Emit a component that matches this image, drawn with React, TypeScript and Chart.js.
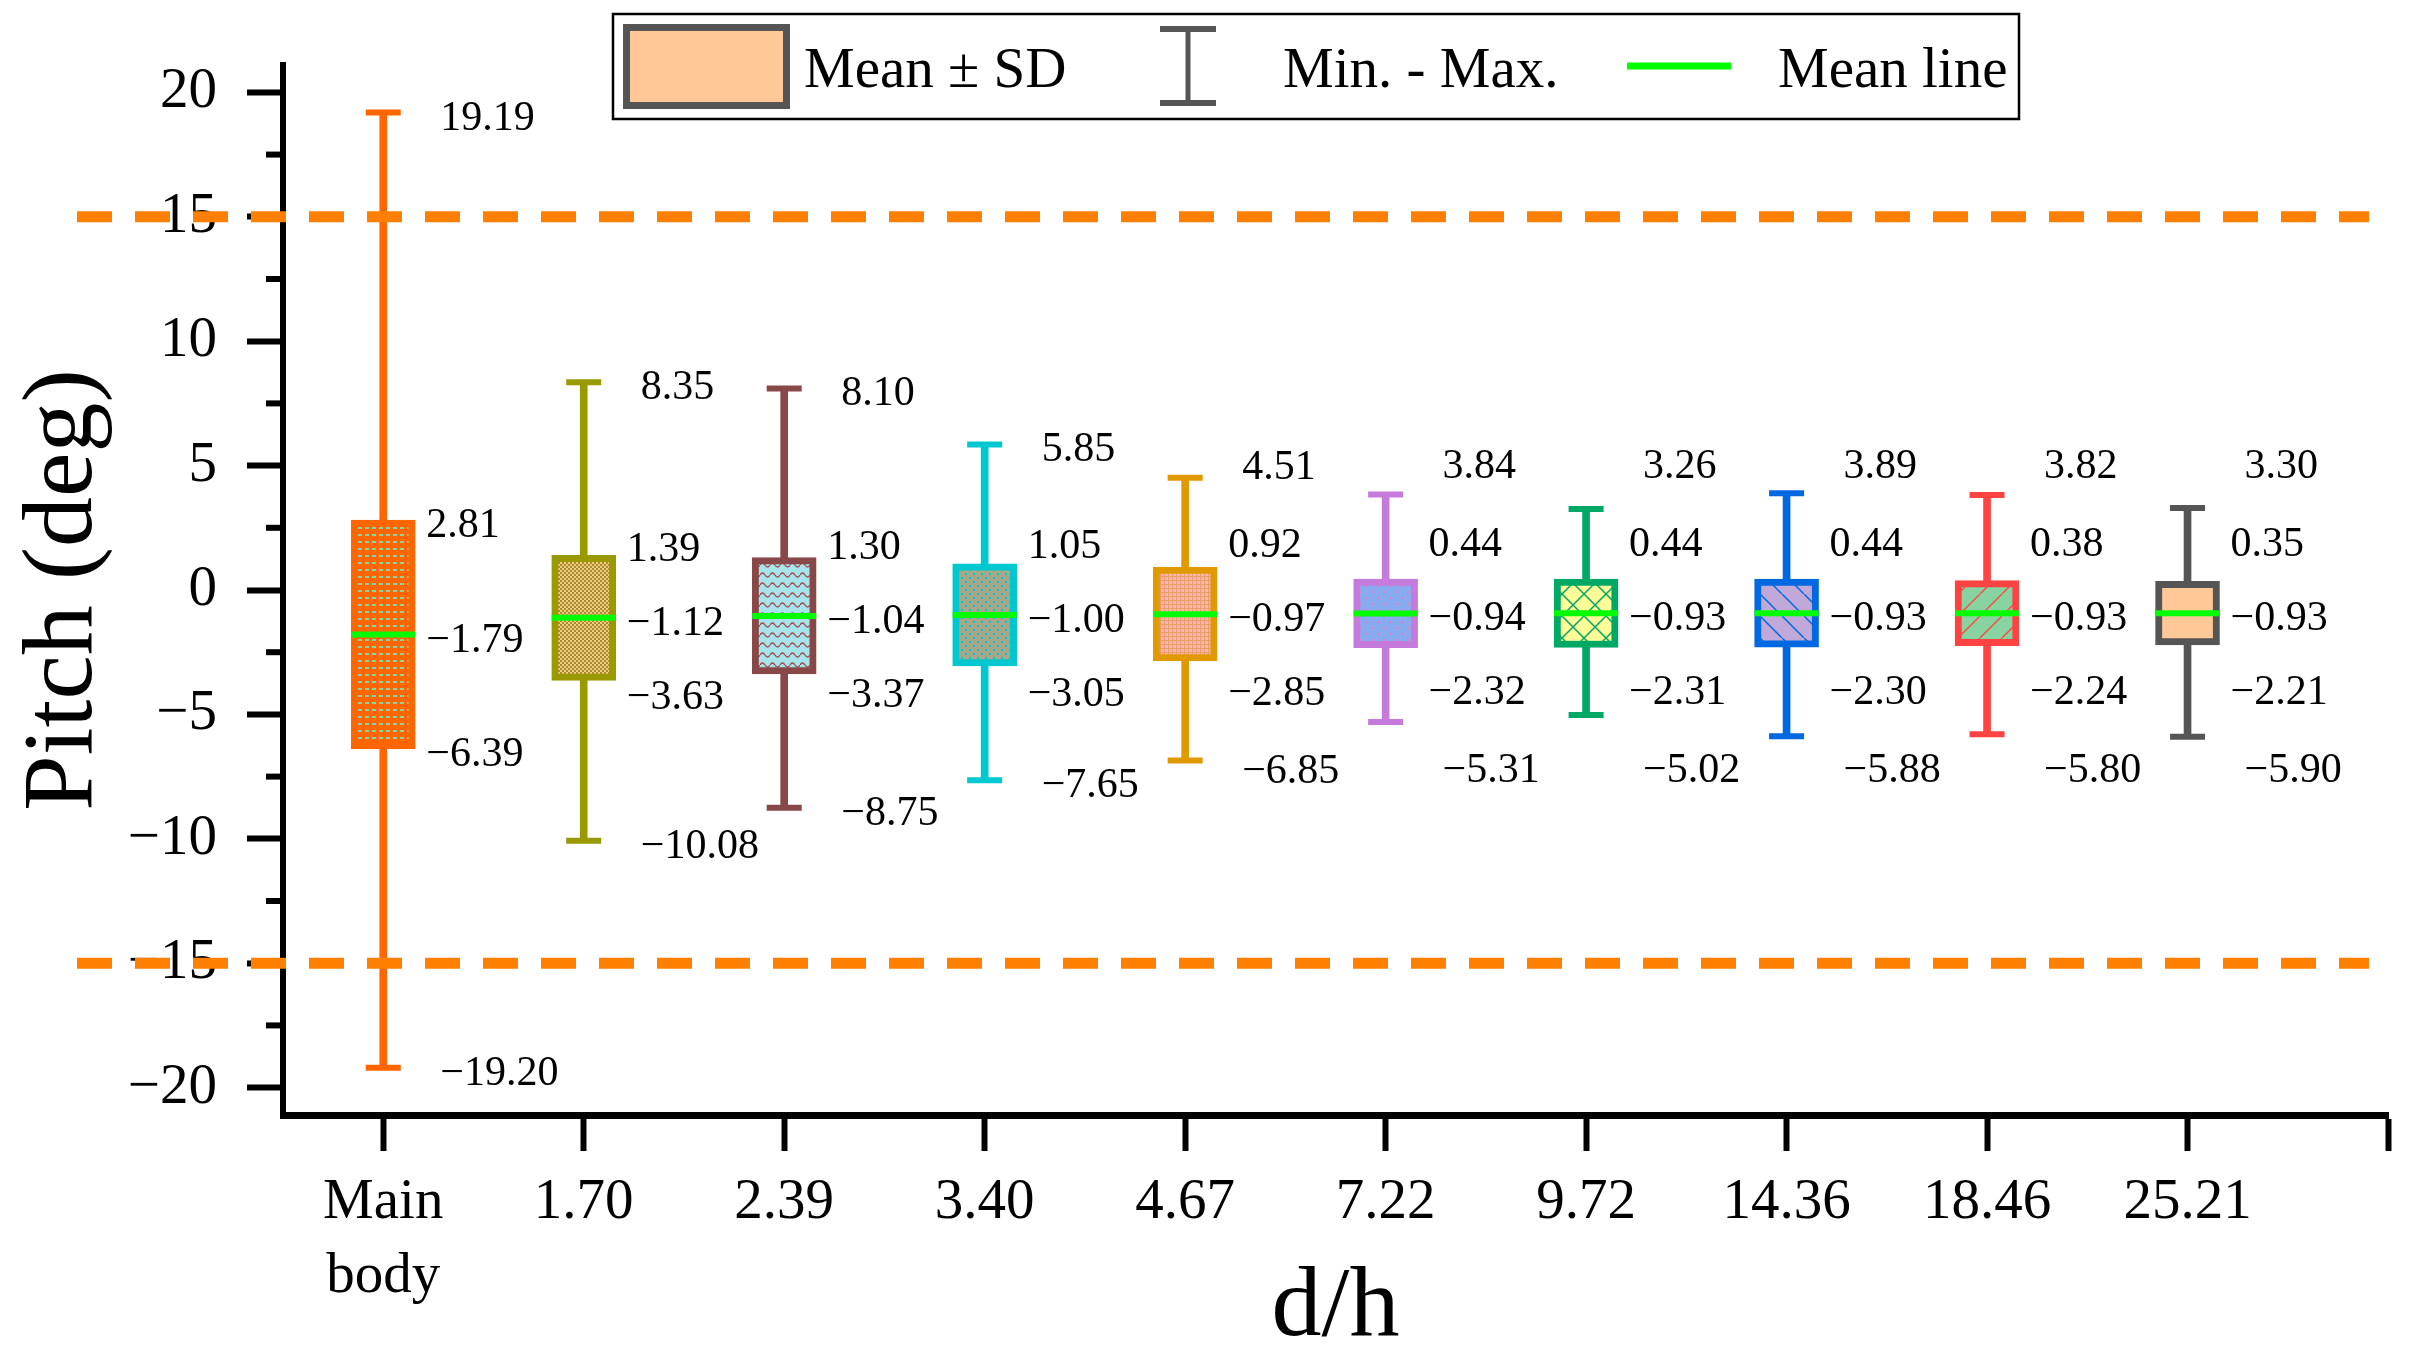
import React, { useEffect, useRef } from 'react';
import { Chart, registerables } from 'chart.js';

Chart.register(...registerables);

// values (Pitch in deg)
const categories = ['Main body', '1.70', '2.39', '3.40', '4.67', '7.22', '9.72', '14.36', '18.46', '25.21'];
const maxVals = [19.19, 8.35, 8.10, 5.85, 4.51, 3.84, 3.26, 3.89, 3.82, 3.30];
const upperVals = [2.81, 1.39, 1.30, 1.05, 0.92, 0.44, 0.44, 0.44, 0.38, 0.35];
const meanVals = [-1.79, -1.12, -1.04, -1.00, -0.97, -0.94, -0.93, -0.93, -0.93, -0.93];
const lowerVals = [-6.39, -3.63, -3.37, -3.05, -2.85, -2.32, -2.31, -2.30, -2.24, -2.21];
const minVals = [-19.20, -10.08, -8.75, -7.65, -6.85, -5.31, -5.02, -5.88, -5.80, -5.90];
const yTicks = [-20, -15, -10, -5, 0, 5, 10, 15, 20];
const yMinorTicks = [-17.5, -12.5, -7.5, -2.5, 2.5, 7.5, 12.5, 17.5];
const limitLines = [15, -15];

const FONT = "'Liberation Serif', 'Times New Roman', serif";
const edgeColors = ['#FF6600', '#999900', '#884848', '#00C8D0', '#E09A00', '#C67ADB', '#00A865', '#0068E0', '#FF4242', '#555555'];

const fmt = (v: number) => (v < 0 ? '\u2212' : '') + Math.abs(v).toFixed(2);

function tile(size: number, bg: string, draw: (g: CanvasRenderingContext2D) => void) {
    const c = document.createElement('canvas');
    c.width = size;
    c.height = size;
    const g = c.getContext('2d')!;
    g.fillStyle = bg;
    g.fillRect(0, 0, size, size);
    draw(g);
    return g.createPattern(c, 'repeat')!;
}

function makeFills(): (CanvasPattern | string)[] {
    return [
        // main body: small light green dashes on orange
        tile(7, '#FF6600', g => { g.fillStyle = '#8FD3A0'; g.fillRect(1, 2, 4, 2); }),
        // 1.70: fine checker
        tile(4, '#F2C890', g => { g.fillStyle = '#A89020'; g.fillRect(0, 0, 2, 2); g.fillRect(2, 2, 2, 2); }),
        // 2.39: wavy lines
        tile(10, '#A8E4EC', g => {
            g.strokeStyle = '#A05050'; g.lineWidth = 1.4;
            g.beginPath(); g.moveTo(0, 5); g.quadraticCurveTo(2.5, 1, 5, 5); g.quadraticCurveTo(7.5, 9, 10, 5); g.stroke();
        }),
        // 3.40: cyan dots on khaki
        tile(8, '#A8A888', g => { g.fillStyle = '#00C8D0'; g.fillRect(1, 1, 2, 2); g.fillRect(5, 5, 2, 2); }),
        // 4.67: pink with orange grid
        tile(4, '#FFB0C0', g => { g.fillStyle = '#E8A060'; g.fillRect(0, 0, 4, 1); g.fillRect(0, 0, 1, 4); }),
        // 7.22: pink dots on blue
        tile(12, '#88AAEE', g => { g.fillStyle = '#E080C0'; g.fillRect(3, 3, 2, 2); g.fillRect(9, 9, 2, 2); }),
        // 9.72: green cross hatch on yellow
        tile(22, '#FFFF99', g => {
            g.strokeStyle = '#00A865'; g.lineWidth = 1.5;
            g.beginPath(); g.moveTo(-1, -1); g.lineTo(23, 23); g.moveTo(-1, 23); g.lineTo(23, -1); g.stroke();
        }),
        // 14.36: blue back diagonals on lavender
        tile(22, '#C0A8D8', g => {
            g.strokeStyle = '#0068E0'; g.lineWidth = 1.5;
            g.beginPath(); g.moveTo(-1, -1); g.lineTo(23, 23); g.stroke();
        }),
        // 18.46: red diagonals on green
        tile(22, '#88D4A0', g => {
            g.strokeStyle = '#FF4242'; g.lineWidth = 1.3;
            g.beginPath(); g.moveTo(-1, 23); g.lineTo(23, -1); g.stroke();
        }),
        '#FFC896',
    ];
}

const annotatePlugin = {
    id: 'annotate',
    afterDatasetsDraw(chart: any) {
        const { ctx, scales } = chart;
        const xs = scales.x, ys = scales.y;
        ctx.save();
        ctx.fillStyle = '#000';
        ctx.font = `42px ${FONT}`;
        ctx.textBaseline = 'middle';
        ctx.textAlign = 'left';
        categories.forEach((_, i) => {
            const cx = xs.getPixelForValue(i + 1);
            const py = (v: number) => ys.getPixelForValue(v) + 6;
            const yMean = py(meanVals[i]);
            const yUp = Math.min(py(upperVals[i]), yMean - 74);
            const yLo = Math.max(py(lowerVals[i]), yMean + 74);
            const yMax = Math.min(py(maxVals[i]), yUp - 78);
            const yMin = Math.max(py(minVals[i]), yLo + 78);
            ctx.fillText(fmt(upperVals[i]), cx + 43, yUp);
            ctx.fillText(fmt(meanVals[i]), cx + 43, yMean);
            ctx.fillText(fmt(lowerVals[i]), cx + 43, yLo);
            ctx.fillText(fmt(maxVals[i]), cx + 57, yMax);
            ctx.fillText(fmt(minVals[i]), cx + 57, yMin);
        });
        ctx.restore();
    },
    afterDraw(chart: any) {
        const { ctx, scales, chartArea } = chart;
        const ys = scales.y;
        ctx.save();
        // minor ticks on the y axis
        ctx.strokeStyle = '#000';
        ctx.lineWidth = 6;
        yMinorTicks.forEach(v => {
            const y = ys.getPixelForValue(v);
            ctx.beginPath();
            ctx.moveTo(chartArea.left - 17, y);
            ctx.lineTo(chartArea.left, y);
            ctx.stroke();
        });
        // +-15 deg limits
        ctx.strokeStyle = '#FF8000';
        ctx.lineWidth = 11;
        ctx.setLineDash([35, 23]);
        limitLines.forEach(v => {
            const y = ys.getPixelForValue(v);
            ctx.beginPath();
            ctx.moveTo(77, y);
            ctx.lineTo(2369, y);
            ctx.stroke();
        });
        ctx.setLineDash([]);

        // legend
        ctx.fillStyle = '#fff';
        ctx.fillRect(613, 14, 1406, 105);
        ctx.strokeStyle = '#000';
        ctx.lineWidth = 2.5;
        ctx.strokeRect(613, 14, 1406, 105);

        ctx.fillStyle = '#FFC896';
        ctx.fillRect(626, 27, 161, 79);
        ctx.strokeStyle = '#555555';
        ctx.lineWidth = 7;
        ctx.strokeRect(626.5, 27.5, 160, 78);

        ctx.lineWidth = 5;
        ctx.beginPath();
        ctx.moveTo(1188, 26); ctx.lineTo(1188, 106);
        ctx.stroke();
        ctx.lineWidth = 6;
        ctx.beginPath();
        ctx.moveTo(1160, 29); ctx.lineTo(1216, 29);
        ctx.moveTo(1160, 103); ctx.lineTo(1216, 103);
        ctx.stroke();

        ctx.strokeStyle = '#00FF00';
        ctx.lineWidth = 7;
        ctx.beginPath();
        ctx.moveTo(1627, 66); ctx.lineTo(1731, 66);
        ctx.stroke();

        ctx.fillStyle = '#000';
        ctx.font = `57px ${FONT}`;
        ctx.textBaseline = 'alphabetic';
        ctx.textAlign = 'left';
        ctx.fillText('Mean \u00B1 SD', 804, 87);
        ctx.fillText('Min. - Max.', 1283, 87);
        ctx.fillText('Mean line', 1778, 87);
        ctx.restore();
    },
};

export default function App() {
    const canvasRef = useRef<HTMLCanvasElement>(null);

    useEffect(() => {
        document.body.style.margin = '0';
        const context = canvasRef.current?.getContext('2d');
        if (!context) return;
        const fills = makeFills();

        const capData = categories.flatMap((_, i) => [
            { x: i + 1, y: maxVals[i] },
            { x: i + 1, y: minVals[i] },
        ]);
        const capColors = edgeColors.flatMap(c => [c, c]);

        const chart = new Chart(context, {
            type: 'bar',
            data: {
                datasets: [
                    {
                        type: 'bar',
                        label: 'Min. - Max.',
                        data: categories.map((_, i) => ({ x: i + 1, y: [minVals[i], maxVals[i]] })),
                        backgroundColor: edgeColors,
                        borderWidth: 0,
                        barThickness: 7,
                        grouped: false,
                        order: 3,
                    },
                    {
                        type: 'bar',
                        label: 'Mean \u00B1 SD',
                        data: categories.map((_, i) => ({ x: i + 1, y: [lowerVals[i], upperVals[i]] })),
                        backgroundColor: fills,
                        borderColor: edgeColors,
                        borderWidth: 7,
                        borderSkipped: false,
                        barThickness: 64,
                        grouped: false,
                        order: 2,
                    },
                    {
                        type: 'scatter',
                        label: 'caps',
                        data: capData,
                        pointStyle: 'line',
                        pointRadius: 17.5,
                        pointBorderWidth: 6,
                        pointBorderColor: capColors,
                        order: 1,
                    },
                    {
                        type: 'scatter',
                        label: 'Mean line',
                        data: categories.map((_, i) => ({ x: i + 1, y: meanVals[i] })),
                        pointStyle: 'line',
                        pointRadius: 32,
                        pointBorderWidth: 6,
                        pointBorderColor: '#00FF00',
                        order: 0,
                    },
                ] as any,
            },
            options: {
                animation: false,
                responsive: true,
                maintainAspectRatio: false,
                devicePixelRatio: 1,
                events: [],
                layout: { padding: { top: 65, right: 24, bottom: 0, left: 0 } },
                plugins: {
                    legend: { display: false },
                    tooltip: { enabled: false },
                },
                scales: {
                    x: {
                        type: 'linear',
                        min: 0.5,
                        max: 11,
                        offset: false,
                        afterBuildTicks: (s: any) => {
                            s.ticks = [...categories.map((_, i) => ({ value: i + 1 })), { value: 11 }];
                        },
                        afterFit: (s: any) => { s.height = 253; },
                        ticks: {
                            autoSkip: false,
                            maxRotation: 0,
                            minRotation: 0,
                            padding: 15,
                            color: '#000',
                            font: { family: FONT, size: 57, lineHeight: 1.3 },
                            callback: (v: any) => {
                                const c = categories[Math.round(v) - 1];
                                if (!c) return '';
                                return c.includes(' ') ? c.split(' ') : c;
                            },
                        },
                        grid: {
                            drawOnChartArea: false,
                            offset: false,
                            tickLength: 36,
                            tickWidth: 6,
                            tickColor: '#000',
                        },
                        border: { display: true, width: 7, color: '#000' },
                        title: {
                            display: true,
                            text: 'd/h',
                            color: '#000',
                            font: { family: FONT, size: 100, lineHeight: 1 },
                            padding: { top: 0, bottom: 9 },
                        },
                    },
                    y: {
                        type: 'linear',
                        min: -21.1,
                        max: 21.1,
                        afterBuildTicks: (s: any) => {
                            s.ticks = yTicks.map(v => ({ value: v }));
                        },
                        afterFit: (s: any) => { s.width = 283; },
                        ticks: {
                            padding: 30,
                            color: '#000',
                            font: { family: FONT, size: 57 },
                            callback: (v: any) => (v < 0 ? '\u2212' : '') + Math.abs(v),
                        },
                        grid: {
                            drawOnChartArea: false,
                            tickLength: 36,
                            tickWidth: 6,
                            tickColor: '#000',
                        },
                        border: { display: true, width: 6, color: '#000' },
                        title: {
                            display: true,
                            text: 'Pitch (deg)',
                            color: '#000',
                            font: { family: FONT, size: 100, lineHeight: 1 },
                            padding: { top: 15, bottom: 0 },
                        },
                    },
                },
            } as any,
            plugins: [annotatePlugin],
        });

        return () => {
            chart.destroy();
        };
    }, []);

    return (
        <div style={{ position: 'fixed', left: 0, top: 0, width: 2426, height: 1368, background: '#fff' }}>
            <canvas ref={canvasRef} />
        </div>
    );
}
